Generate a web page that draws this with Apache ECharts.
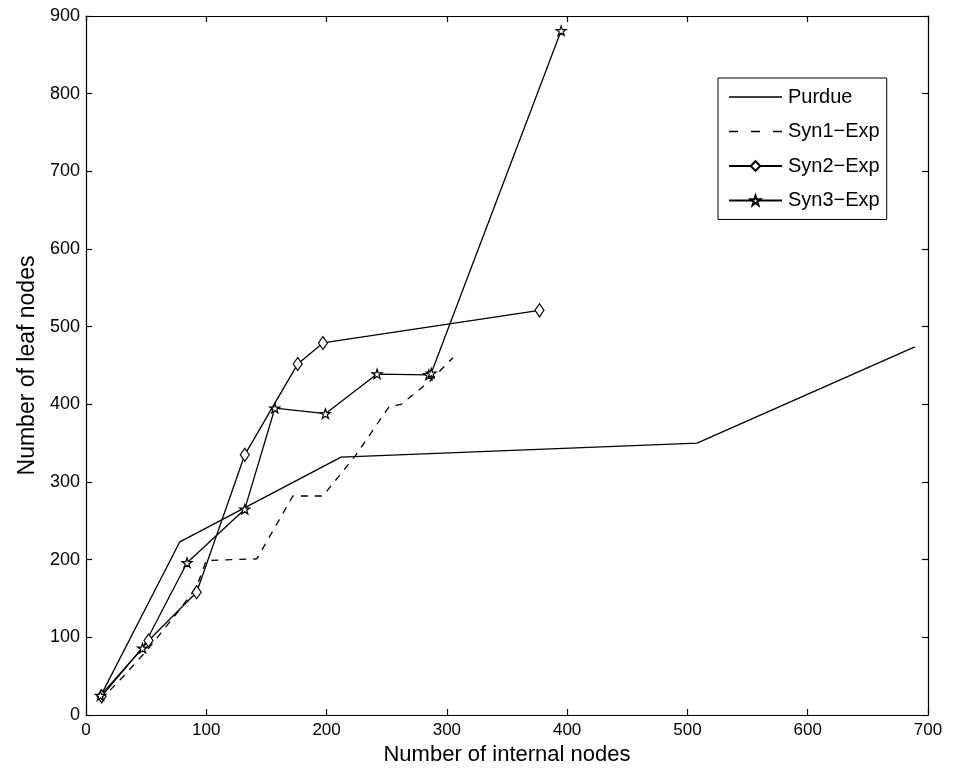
<!DOCTYPE html>
<html>
<head>
<meta charset="utf-8">
<script src="https://cdn.jsdelivr.net/npm/echarts@6/dist/echarts.min.js"></script>
<style>
html,body{margin:0;padding:0;background:#fff;}
#chart{width:953px;height:773px;}
</style>
</head>
<body>
<div id="chart"></div>
<script>
const seriesNames = ['Purdue', 'Syn1\u2212Exp', 'Syn2\u2212Exp', 'Syn3\u2212Exp'];
const purdue = [[12,24],[78,223],[212,332],[508,350],[689,474]];
const syn1 = [[12,19],[30,48],[50,82],[75,130],[92,165],[100,199],[142,201],[172,282],[197,282],[224,334],[252,397],[262,400],[286,430],[300,452],[305,460]];
const syn2 = [[13,24],[52,96],[92,158],[132,335],[176,452],[197,479],[377,521]];
const syn3 = [[12,25],[47,86],[84,196],[132,265],[157,395],[199,388],[242,439],[285,438],[287,440],[395,881]];
const xTicks = {min: 0, max: 700, interval: 100};
const yTicks = {min: 0, max: 900, interval: 100};
const xTitle = 'Number of internal nodes';
const yTitle = 'Number of leaf nodes';

const starPath = 'path://M50 0 L61.23 34.55 L97.55 34.55 L68.17 55.9 L79.39 90.45 L50 69.1 L20.61 90.45 L31.83 55.9 L2.45 34.55 L38.77 34.55 Z';
const solidIcon = 'path://M0 0 H53 V1.3 H0 Z';
const dashIcon = 'path://M0 0 H9 V1.3 H0 Z M22 0 H31 V1.3 H22 Z M44 0 H53 V1.3 H44 Z';
const font = 'Liberation Sans, Arial, Helvetica, sans-serif';

const baseAxis = {
  axisLine: {show: true, onZero: false, lineStyle: {color: '#000', width: 1.2}},
  axisTick: {show: true, inside: true, length: 6, lineStyle: {color: '#000', width: 1.2}},
  splitLine: {show: false}
};

const chart = echarts.init(document.getElementById('chart'), null, {renderer: 'canvas'});
chart.setOption({
  backgroundColor: '#fff',
  animation: false,
  grid: {left: 86, right: 25, top: 16, bottom: 58, containLabel: false},
  xAxis: [
    Object.assign({}, baseAxis, {
      type: 'value', position: 'bottom', min: xTicks.min, max: xTicks.max, interval: xTicks.interval,
      axisLabel: {color: '#000', fontSize: 17, fontFamily: font, margin: 7},
      name: xTitle, nameLocation: 'middle', nameGap: 25,
      nameTextStyle: {color: '#000', fontSize: 22, fontFamily: font}
    }),
    Object.assign({}, baseAxis, {
      type: 'value', position: 'top', min: xTicks.min, max: xTicks.max, interval: xTicks.interval,
      axisLabel: {show: false}
    })
  ],
  yAxis: [
    Object.assign({}, baseAxis, {
      type: 'value', position: 'left', min: yTicks.min, max: yTicks.max, interval: yTicks.interval,
      axisLabel: {color: '#000', fontSize: 18, fontFamily: font, margin: 6},
      name: yTitle, nameLocation: 'middle', nameGap: 46,
      nameTextStyle: {color: '#000', fontSize: 23, fontFamily: font}
    }),
    Object.assign({}, baseAxis, {
      type: 'value', position: 'right', min: yTicks.min, max: yTicks.max, interval: yTicks.interval,
      axisLabel: {show: false}
    })
  ],
  legend: {
    orient: 'vertical',
    left: 718, top: 78,
    padding: [9, 7, 9, 10],
    backgroundColor: '#fff',
    borderColor: '#000', borderWidth: 1, borderRadius: 0,
    itemWidth: 53, itemHeight: 12, itemGap: 14.5,
    symbolKeepAspect: true,
    textStyle: {color: '#000', fontSize: 20, lineHeight: 20, fontFamily: font, padding: [0, 0, 0, 1]},
    data: [
      {name: seriesNames[0], icon: solidIcon, itemStyle: {color: '#000', borderWidth: 0}},
      {name: seriesNames[1], icon: dashIcon, itemStyle: {color: '#000', borderWidth: 0}},
      {name: seriesNames[2]},
      {name: seriesNames[3]}
    ]
  },
  series: [
    {
      name: seriesNames[0], type: 'line', data: purdue, symbol: 'none',
      lineStyle: {color: '#000', width: 1.3}, itemStyle: {color: '#000'}
    },
    {
      name: seriesNames[1], type: 'line', data: syn1, symbol: 'none',
      lineStyle: {color: '#000', width: 1.3, type: [7, 7]}, itemStyle: {color: '#000'}
    },
    {
      name: seriesNames[2], type: 'line', data: syn2, symbol: 'diamond', symbolSize: [9, 13],
      lineStyle: {color: '#000', width: 1.3},
      itemStyle: {color: '#fff', borderColor: '#000', borderWidth: 1.2}
    },
    {
      name: seriesNames[3], type: 'line', data: syn3, symbol: starPath, symbolSize: 10, symbolKeepAspect: true,
      lineStyle: {color: '#000', width: 1.3},
      itemStyle: {color: '#fff', borderColor: '#000', borderWidth: 1.2}
    }
  ]
});
</script>
</body>
</html>
